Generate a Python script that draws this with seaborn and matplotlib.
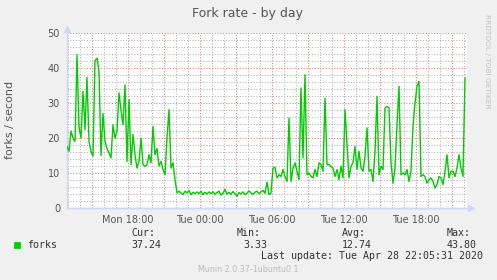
import matplotlib
matplotlib.use("Agg")
import matplotlib.pyplot as plt
import matplotlib.dates as mdates
from matplotlib.ticker import MultipleLocator, FuncFormatter
from matplotlib.patches import Rectangle
import numpy as np
import pandas as pd
import seaborn as sns

# ---------------- data ----------------
start_time = "2020-04-27 12:55"
end_time = "2020-04-28 22:15"
sample_freq = "10min"

forks_early = [17.6, 16.2, 22, 20, 19, 43.8, 23, 20, 33.3, 22.4, 37.3, 19, 16.2, 14.8,
               42.1, 42.8, 39, 15, 27, 19, 17, 15.7, 14.3, 23.8, 20, 22, 32.9, 28, 23.8,
               35.2, 13.3, 31, 12.4, 21, 15.2]
forks_evening = [11.4, 13.3, 20, 12.4, 11.9, 12.4, 15.2, 12.9, 23.3, 15.2, 17, 12, 13.3,
                 11, 9.5, 20, 28.1, 11.4, 12.9, 8.1]
forks_night = [4.3, 4.8, 4.3, 3.8, 4.8, 4.3, 5.0, 3.8, 4.5, 4.1, 4.6, 4.1, 4.8, 3.8, 4.5,
               4.0, 4.6, 4.1,
               4.6, 3.9, 4.4, 4.8, 3.7, 4.2, 5.3, 4.0, 4.5, 3.9, 4.7, 4.1, 3.33, 4.4, 4.0,
               4.6, 3.8, 4.2, 4.9, 4.3, 3.9, 4.5, 4.8, 4.1, 4.6, 5.0,
               4.2, 7.4, 3.8, 4.3]
forks_morning = [11.4, 11.6, 8.6, 9.5, 9, 11, 9, 7.6, 25.7, 7.6, 11.4, 12.9, 10.5, 8.1,
                 34.3, 14.3, 38.1, 9.5, 10, 9, 8.6, 11, 9, 12.9, 12.4, 10.5, 31.4, 12.4,
                 12.4, 11.9, 11.4, 9, 11]
forks_afternoon = [8.1, 12, 8.6, 28.1, 18.1, 8.6, 11.9, 13, 17.6, 11, 16.2, 11.4, 10.5,
                   14.8, 22.9, 10.5, 11, 7.6, 16.2, 31.9, 9.5, 11.9, 11, 28.6, 29, 28.6,
                   12.9, 7.1, 11.4, 23.8, 34.8, 9.5, 10, 9.5]
forks_late = [11, 7.6, 10.5, 23.3, 30, 34.8, 36.2, 9, 9.5, 9, 7.1, 8.1, 8.6, 7.6, 5.7,
              6.7, 9, 8.6, 6.7, 10.5, 15.2, 8.6, 10.5, 10.5, 9, 11.4, 15.2, 11.4, 9, 37.24]

forks = forks_early + forks_evening + forks_night + forks_morning + forks_afternoon + forks_late
times = pd.date_range(start_time, periods=len(forks), freq=sample_freq)
df = pd.DataFrame({"time": times, "forks": forks})

series_name = "forks"
title = "Fork rate - by day"
ylabel = "forks / second"
stat_labels = ["Cur:", "Min:", "Avg:", "Max:"]
stat_values = ["37.24", "3.33", "12.74", "43.80"]
last_update = "Last update: Tue Apr 28 22:05:31 2020"
footer = "Munin 2.0.37-1ubuntu0.1"
side_text = "RRDTOOL / TOBI OETIKER"

# ---------------- style ----------------
sns.set_style("white")
plt.rcParams["font.family"] = ["DejaVu Sans"]

W, H = 497, 280
BG = "#F0F0F0"
FONT = "#555555"
AXIS = "#CFD6F8"
GREEN = "#00CC00"

fig = plt.figure(figsize=(W / 100, H / 100), dpi=100, facecolor=BG)
ax = fig.add_axes([67 / W, 72 / H, 400 / W, 175 / H])
ax.set_facecolor("white")

sns.lineplot(data=df, x="time", y="forks", ax=ax, color=GREEN, linewidth=1.0, zorder=3)

ax.set_xlim(pd.Timestamp(start_time), pd.Timestamp(end_time))
ax.set_ylim(0, 50)

ax.xaxis.set_major_locator(mdates.HourLocator(interval=3))
ax.xaxis.set_minor_locator(mdates.HourLocator())


def fmt(x, pos):
    d = mdates.num2date(x)
    return d.strftime("%a %H:%M") if d.hour % 6 == 0 else ""


ax.xaxis.set_major_formatter(FuncFormatter(fmt))
ax.yaxis.set_major_locator(MultipleLocator(10))
ax.yaxis.set_minor_locator(MultipleLocator(2))

ax.grid(which="minor", color="#B8B8B8", linestyle=(0, (1, 1.5)), linewidth=0.8, zorder=1)
ax.grid(which="major", color="#E88888", linestyle=(0, (1, 1.5)), linewidth=0.8, zorder=2)

ax.set_xlabel("")
ax.set_ylabel("")
ax.tick_params(axis="both", which="major", labelsize=7, labelcolor=FONT, colors=AXIS,
               length=2, width=0.8, pad=3)
ax.tick_params(axis="both", which="minor", length=1.5, width=0.6, colors=AXIS)

for s in ["top", "right"]:
    ax.spines[s].set_visible(False)
for s in ["left", "bottom"]:
    ax.spines[s].set_color(AXIS)
    ax.spines[s].set_linewidth(1.0)

# axis arrows
ax.plot([0], [1.0 + 4 / 175], marker="^", color=AXIS, markersize=4, transform=ax.transAxes,
        clip_on=False, zorder=5)
ax.plot([0, 1 + 4 / 400], [0, 0], color=AXIS, lw=1.0, transform=ax.transAxes, clip_on=False)
ax.plot([1 + 4 / 400], [0], marker=">", color=AXIS, markersize=4, transform=ax.transAxes,
        clip_on=False, zorder=5)


def fx(px):
    return px / W


def fy(py):
    return 1 - py / H


fig.text(fx(248), fy(14), title, ha="center", va="center", fontsize=9, color=FONT)
fig.text(fx(10), fy(120), ylabel, ha="center", va="center", rotation=90, fontsize=8,
         color=FONT)
fig.text(fx(487), fy(14), side_text, ha="center", va="top", rotation=270, fontsize=5.3,
         color="#C0C0C0")

mono = "DejaVu Sans Mono"
fig.patches.append(Rectangle((fx(14), fy(248)), 6 / W, 6 / H, transform=fig.transFigure,
                             facecolor=GREEN, edgecolor=GREEN, lw=0.5))
fig.text(fx(27), fy(245), series_name, ha="left", va="center", fontsize=7.2,
         family=mono, color="#333333")
label_x = [131, 237, 342, 447]
value_x = [161, 267, 372, 477]
for lx, vx, lab, val in zip(label_x, value_x, stat_labels, stat_values):
    fig.text(fx(lx), fy(233.5), lab, ha="left", va="center", fontsize=7.2, family=mono,
             color="#333333")
    fig.text(fx(vx), fy(245), val, ha="right", va="center", fontsize=7.2, family=mono,
             color="#333333")
fig.text(fx(483), fy(256), last_update, ha="right", va="center", fontsize=7.2,
         family=mono, color="#333333")
fig.text(fx(248), fy(270), footer, ha="center", va="center", fontsize=5.8,
         color="#BBBBBB")

fig.savefig("out.png", dpi=100, facecolor=BG)
